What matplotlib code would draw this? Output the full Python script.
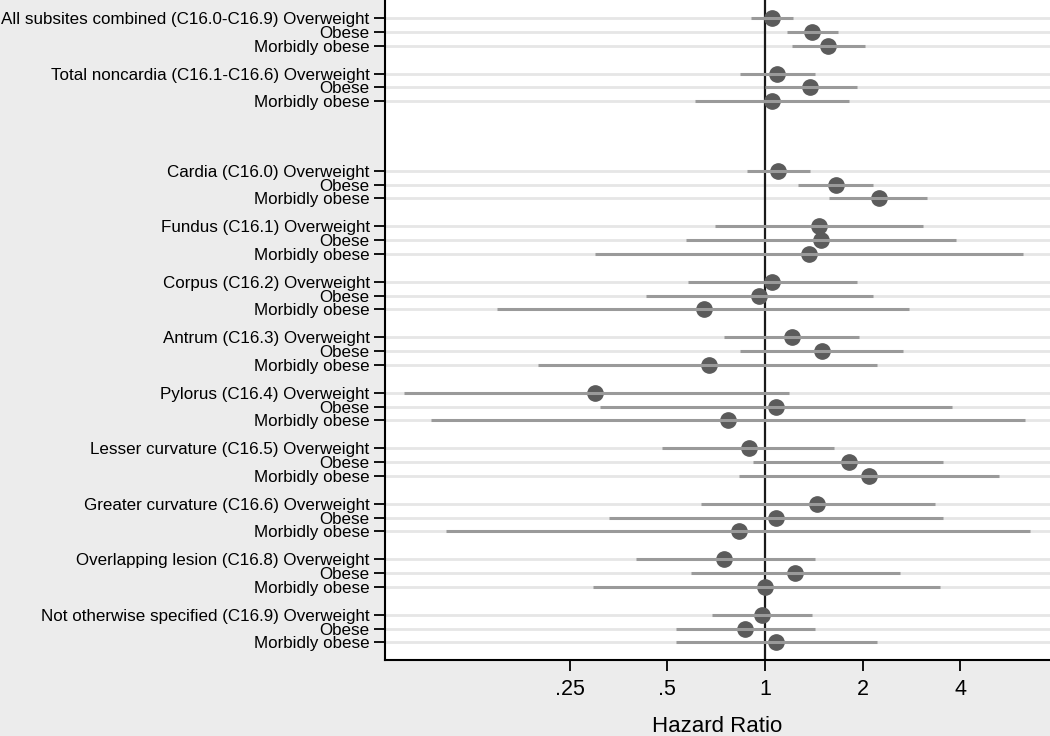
import numpy as np
import matplotlib
matplotlib.use("Agg")
import matplotlib.pyplot as plt

plt.rcParams['font.family'] = ['Liberation Sans', 'DejaVu Sans']

groups = [
    "All subsites combined (C16.0-C16.9)",
    "Total noncardia (C16.1-C16.6)",
    "Cardia (C16.0)",
    "Fundus (C16.1)",
    "Corpus (C16.2)",
    "Antrum (C16.3)",
    "Pylorus (C16.4)",
    "Lesser curvature (C16.5)",
    "Greater curvature (C16.6)",
    "Overlapping lesion (C16.8)",
    "Not otherwise specified (C16.9)",
]
categories = ["Overweight", "Obese", "Morbidly obese"]

# hazard ratios (per group: overweight, obese, morbidly obese)
hr = [
    [1.05, 1.40, 1.56],
    [1.09, 1.38, 1.05],
    [1.10, 1.65, 2.24],
    [1.47, 1.49, 1.37],
    [1.05, 0.96, 0.65],
    [1.21, 1.50, 0.67],
    [0.30, 1.08, 0.77],
    [0.89, 1.81, 2.09],
    [1.45, 1.08, 0.83],
    [0.75, 1.24, 1.00],
    [0.98, 0.87, 1.08],
]
ci_low = [
    [0.905, 1.17, 1.21],
    [0.84, 1.00, 0.61],
    [0.88, 1.26, 1.58],
    [0.70, 0.57, 0.30],
    [0.58, 0.43, 0.149],
    [0.75, 0.84, 0.20],
    [0.077, 0.31, 0.093],
    [0.48, 0.92, 0.83],
    [0.635, 0.33, 0.104],
    [0.40, 0.59, 0.295],
    [0.685, 0.53, 0.53],
]
ci_high = [
    [1.22, 1.68, 2.04],
    [1.43, 1.92, 1.82],
    [1.38, 2.15, 3.17],
    [3.07, 3.89, 6.25],
    [1.92, 2.15, 2.79],
    [1.95, 2.67, 2.21],
    [1.19, 3.78, 6.36],
    [1.63, 3.54, 5.27],
    [3.34, 3.54, 6.56],
    [1.43, 2.61, 3.46],
    [1.40, 1.43, 2.21],
]
xticks = [0.25, 0.5, 1, 2, 4]
xticklabels = [".25", ".5", "1", "2", "4"]

# layout of rows (in row steps)
pos = []
labels = []
y = 0.0
for g, name in enumerate(groups):
    for k, cat in enumerate(categories):
        pos.append(y)
        labels.append(f"{name} {cat}" if k == 0 else cat)
        y += 1
    y += 4 if g == 1 else 1
pos = np.array(pos)

est = np.array(hr).ravel()
lo = np.array(ci_low).ravel()
hi = np.array(ci_high).ravel()

bg = '#ececec'
fig = plt.figure(figsize=(10.5, 7.36), dpi=100, facecolor=bg)
ax = fig.add_axes([385/1050, 1 - 660/736, 665/1050, 660/736])
ax.set_facecolor('white')

ax.set_xscale('log', base=2)
ax.set_xlim(2 ** (-380/97.6), 2 ** (285/97.6))
ax.set_ylim(pos[-1] + 1.27, pos[0] - 1.3)

for p in pos:
    ax.axhline(p, color='#e6e6e6', lw=2.0, zorder=1)
ax.axvline(1, color='#1a1a1a', lw=1.6, zorder=2)

ax.plot(est, pos, 'o', color='#5b5b5b', ms=11, mec='#5b5b5b', zorder=3)
ax.hlines(pos, lo, hi, color='#9a9a9a', lw=2.2, zorder=4)

ax.set_yticks(pos)
ax.set_yticklabels(labels, fontsize=12.25)
ax.set_xticks(xticks)
ax.set_xticklabels(xticklabels, fontsize=15.5)
ax.minorticks_off()
ax.tick_params(axis='both', length=8, width=1.3, color='black')
ax.tick_params(axis='y', pad=3)
ax.tick_params(axis='x', pad=6)
ax.set_xlabel("Hazard Ratio", fontsize=16, labelpad=11)

for s in ['top', 'right']:
    ax.spines[s].set_visible(False)
for s in ['left', 'bottom']:
    ax.spines[s].set_linewidth(1.5)
    ax.spines[s].set_color('black')

fig.savefig('out.png', dpi=100, facecolor=bg)
